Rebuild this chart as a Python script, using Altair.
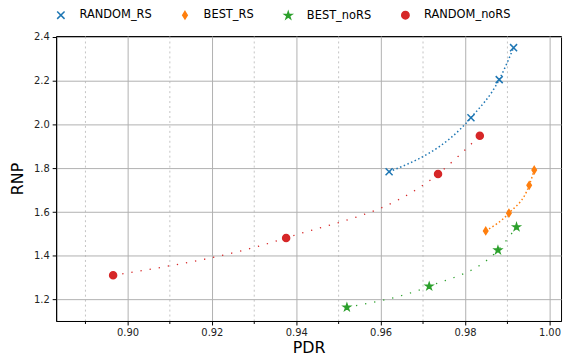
import altair as alt
import pandas as pd

series_names = ["RANDOM_RS", "BEST_RS", "BEST_noRS", "RANDOM_noRS"]
colors = ["#1f77b4", "#ff7f0e", "#2ca02c", "#d62728"]

random_rs_pdr = [0.962, 0.9814, 0.9881, 0.9915]
random_rs_rnp = [1.784, 2.031, 2.205, 2.351]

best_rs_pdr = [0.9849, 0.9904, 0.9952, 0.9964]
best_rs_rnp = [1.514, 1.595, 1.722, 1.792]

best_nors_pdr = [0.952, 0.9715, 0.9878, 0.9922]
best_nors_rnp = [1.165, 1.261, 1.426, 1.532]

random_nors_pdr = [0.8966, 0.9376, 0.9736, 0.9835]
random_nors_rnp = [1.311, 1.482, 1.774, 1.949]

x_major = [0.90, 0.92, 0.94, 0.96, 0.98, 1.00]
x_minor = [0.89, 0.91, 0.93, 0.95, 0.97, 0.99]
y_major = [1.2, 1.4, 1.6, 1.8, 2.0, 2.2, 2.4]

rows = []
for name, xs, ys in [
    ("RANDOM_RS", random_rs_pdr, random_rs_rnp),
    ("BEST_RS", best_rs_pdr, best_rs_rnp),
    ("BEST_noRS", best_nors_pdr, best_nors_rnp),
    ("RANDOM_noRS", random_nors_pdr, random_nors_rnp),
]:
    for i, (x, y) in enumerate(zip(xs, ys)):
        rows.append({"series": name, "PDR": x, "RNP": y, "order": i})
df = pd.DataFrame(rows)

X_PATH = "M-1,-1L1,1M-1,1L1,-1"
THIN_DIAMOND = "M0,-1L0.62,0L0,1L-0.62,0Z"
STAR = ("M0,-1L0.225,-0.309L0.951,-0.309L0.363,0.118L0.588,0.809L0,0.382"
        "L-0.588,0.809L-0.363,0.118L-0.951,-0.309L-0.225,-0.309Z")
shapes = [X_PATH, THIN_DIAMOND, STAR, "circle"]

xscale = alt.Scale(domain=[0.8831, 1.00275], nice=False, zero=False)
yscale = alt.Scale(domain=[1.1025, 2.404], nice=False, zero=False)
cscale = alt.Scale(domain=series_names, range=colors)
sscale = alt.Scale(domain=series_names, range=shapes)

base = alt.Chart(df)

x_main = alt.X("PDR:Q", scale=xscale, title="PDR",
               axis=alt.Axis(orient="bottom", values=x_major, format=".2f", grid=True,
                             gridColor="#b0b0b0", gridWidth=1, tickSize=4,
                             labelPadding=3, titlePadding=2,
                             titleFontWeight="normal", titleFontSize=16,
                             titleFont="DejaVu Sans"))
x_noaxis = alt.X("PDR:Q", scale=xscale, axis=None)
y_main = alt.Y("RNP:Q", scale=yscale, title="RNP",
               axis=alt.Axis(values=y_major, format=".1f", grid=True,
                             gridColor="#b0b0b0", gridWidth=1, tickSize=4,
                             labelPadding=3, titlePadding=8,
                             titleFontWeight="normal", titleFontSize=16,
                             titleFont="DejaVu Sans"))

# minor grid layer (dotted vertical lines at minor ticks)
minor = base.mark_point(opacity=0).encode(
    x=alt.X("PDR:Q", scale=xscale, title=None,
            axis=alt.Axis(orient="bottom", values=x_minor, labels=False, grid=True,
                          gridColor="#c4c4c4", gridDash=[2, 3], gridWidth=1,
                          tickSize=2.5, domain=False)),
    y=y_main,
)

line_layers = []
for name, col in zip(series_names, colors):
    dense = name.endswith("_RS")
    line_layers.append(
        base.transform_filter(alt.datum.series == name).mark_line(
            interpolate="monotone", color=col,
            strokeWidth=1.5 if dense else 1.3,
            strokeDash=[1.5, 2.5] if dense else [1.3, 8],
        ).encode(x=x_noaxis, y=y_main, order="order:Q")
    )

leg = alt.Legend(orient="none", legendX=-1, legendY=-27,
                 direction="horizontal", columnPadding=27,
                 labelOffset=13, symbolSize=55,
                 labelFontSize=11.5, padding=0,
                 symbolStrokeWidth=1.5, labelColor="#000")

points = base.mark_point(filled=True, size=50, strokeWidth=1.5, opacity=1).encode(
    x=x_main, y=y_main,
    color=alt.Color("series:N", scale=cscale, title=None, legend=leg),
    stroke=alt.Stroke("series:N", scale=cscale, title=None, legend=leg),
    shape=alt.Shape("series:N", scale=sscale, title=None, legend=leg),
)

chart = alt.layer(minor, *line_layers, points).resolve_axis(
    x="independent"
).properties(
    width=508.5, height=287,
    autosize=alt.AutoSizeParams(type="none"),
    padding={"left": 48.5, "top": 27, "right": 6, "bottom": 33},
).configure_view(
    stroke="#000", strokeWidth=1
).configure_axis(
    labelFont="DejaVu Sans", titleFont="DejaVu Sans", labelFontSize=10,
    titleFontSize=16, titleFontWeight="normal", labelColor="#222",
    titleColor="#000", domainColor="#000", tickColor="#000",
).configure_legend(
    labelFont="DejaVu Sans"
)

chart.save("out.html", embed_options={"renderer": "svg", "actions": False})
